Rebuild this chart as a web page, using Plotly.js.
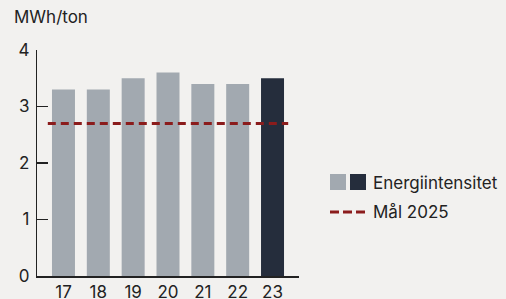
<!DOCTYPE html>
<html>
<head>
<meta charset="utf-8">
<script src="https://cdn.plot.ly/plotly-3.0.1.min.js"></script>
<style>html,body{margin:0;padding:0;background:#F2F1EF;}#chart{width:506px;height:299px;}</style>
</head>
<body>
<div id="chart"></div>
<script>
const years = ["17", "18", "19", "20", "21", "22", "23"];
const intensity = [3.3, 3.3, 3.5, 3.6, 3.4, 3.4, 3.5];
const target2025 = 2.7;
const unitLabel = "MWh/ton";
const legendLabels = ["Energiintensitet", "Mål 2025"];

const grayC = "#A2A9B0", darkC = "#252D3C", redC = "#8B1C1C", bg = "#F2F1EF", axisC = "#222222";
const barColors = years.map((y, i) => i === years.length - 1 ? darkC : grayC);

const L = 37, T = 50, W = 262, H = 226;
const px = v => (v - L) / W;       // x pixel -> paper
const py = v => 1 - (v - T) / H;   // y pixel -> paper

const font = {family: "Inter, 'Noto Sans', sans-serif", color: "#222222", size: 17};

const traces = [
  {type: "bar", x: years, y: intensity, marker: {color: barColors}, width: 0.66, hoverinfo: "skip", showlegend: false},
  {type: "scatter", mode: "lines", x: [-0.45, 6.45], y: [target2025, target2025], xaxis: "x2",
   line: {color: redC, width: 3, dash: "8px,5px"}, hoverinfo: "skip", showlegend: false}
];

const layout = {
  width: 506, height: 299,
  margin: {l: L, r: 506 - L - W, t: T, b: 299 - T - H, pad: 0},
  paper_bgcolor: bg, plot_bgcolor: bg,
  font: font,
  showlegend: false,
  xaxis: {type: "category", range: [-0.76, 6.76], showgrid: false, zeroline: false,
          showline: true, linecolor: axisC, linewidth: 1.5, ticks: "", tickfont: font, fixedrange: true},
  xaxis2: {overlaying: "x", range: [-0.76, 6.76], visible: false, fixedrange: true},
  yaxis: {range: [0, 4], dtick: 1, showgrid: false, zeroline: false, showline: true,
          linecolor: axisC, linewidth: 1.2, ticks: "inside", ticklen: 11, tickcolor: axisC, tickwidth: 1.2,
          tickfont: font, ticklabelstandoff: 3, fixedrange: true},
  shapes: [
    {type: "rect", xref: "paper", yref: "paper", x0: px(330), x1: px(346), y0: py(190), y1: py(174), fillcolor: grayC, line: {width: 0}},
    {type: "rect", xref: "paper", yref: "paper", x0: px(350), x1: px(366), y0: py(190), y1: py(174), fillcolor: darkC, line: {width: 0}},
    {type: "line", xref: "paper", yref: "paper", x0: px(330), x1: px(366), y0: py(212), y1: py(212), line: {color: redC, width: 3, dash: "9px,4px"}}
  ],
  annotations: [
    {text: unitLabel, xref: "paper", yref: "paper", x: px(12), y: py(17), xanchor: "left", yanchor: "middle", showarrow: false, font: font},
    {text: legendLabels[0], xref: "paper", yref: "paper", x: px(371), y: py(183), xanchor: "left", yanchor: "middle", showarrow: false, font: font},
    {text: legendLabels[1], xref: "paper", yref: "paper", x: px(371), y: py(212), xanchor: "left", yanchor: "middle", showarrow: false, font: font}
  ]
};

Plotly.newPlot("chart", traces, layout, {displayModeBar: false, staticPlot: true});
</script>
</body>
</html>
